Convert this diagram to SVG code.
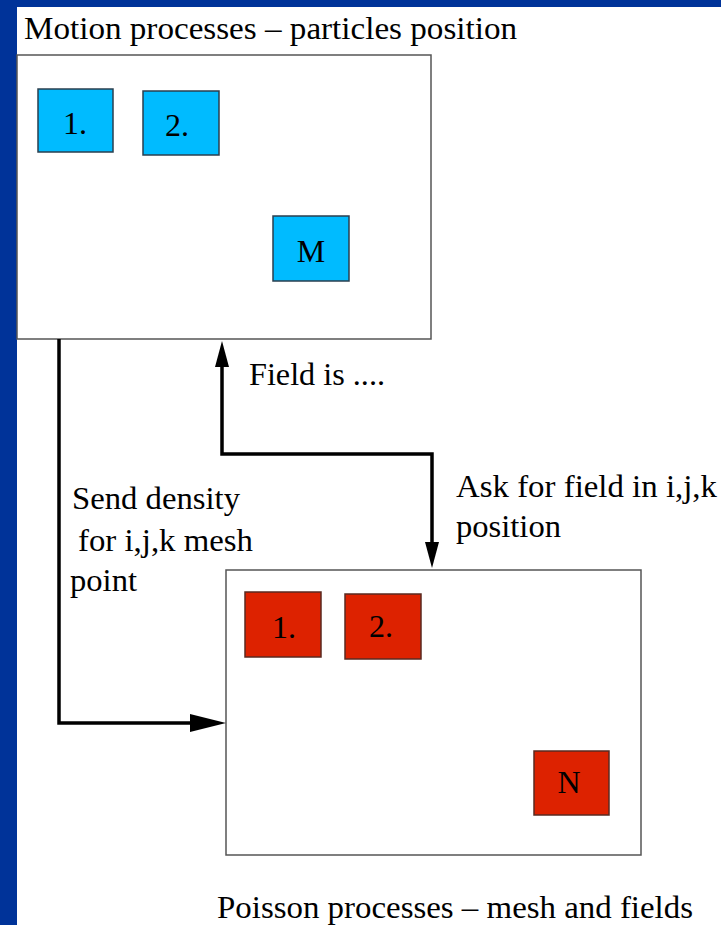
<svg xmlns="http://www.w3.org/2000/svg" width="721" height="925" viewBox="0 0 721 925" font-family="'Liberation Serif', 'Times New Roman', serif">
<style>
text{font-family:"Liberation Serif","Tinos","Times New Roman","Nimbus Roman","DejaVu Serif",serif;fill:#000}
.t{font-size:32px}
.lbl{font-size:32px;text-anchor:middle}
.frame{fill:#fff;stroke:#555;stroke-width:1.5}
.blue{fill:#00bbff;stroke:#2a3f4f;stroke-width:1.5}
.red{fill:#dd2200;stroke:#5a2a20;stroke-width:1.5}
.conn{fill:none;stroke:#000;stroke-width:3.5}
</style>
<defs>
<marker id="ahBig" viewBox="0 0 36 18" markerWidth="36" markerHeight="18" refX="1" refY="9" orient="auto" markerUnits="userSpaceOnUse"><path d="M0,0 L36,9 L0,18 z" fill="#000"/></marker>
<marker id="ahSmall" viewBox="0 0 26 14" markerWidth="26" markerHeight="14" refX="1" refY="7" orient="auto-start-reverse" markerUnits="userSpaceOnUse"><path d="M0,0 L26,7 L0,14 z" fill="#000"/></marker>
</defs>
<rect x="0" y="0" width="721" height="925" fill="#003399"/>
<rect x="17" y="7" width="704" height="918" fill="#fff"/>
<g id="motion">
<text class="t" x="24" y="39" textLength="493" lengthAdjust="spacingAndGlyphs">Motion processes – particles position</text>
<rect class="frame" x="17" y="55" width="414" height="284"/>
</g>
<g id="m1"><rect class="blue" x="38" y="89" width="75" height="63"/><text class="lbl" x="75" y="134">1.</text></g>
<g id="m2"><rect class="blue" x="143" y="91" width="76" height="64"/><text class="lbl" x="177" y="136">2.</text></g>
<g id="mM"><rect class="blue" x="273" y="216" width="76" height="65"/><text class="lbl" x="311" y="262">M</text></g>
<g id="poisson">
<rect class="frame" x="226" y="570" width="415" height="285"/>
<text class="t" x="217" y="918" textLength="476" lengthAdjust="spacingAndGlyphs">Poisson processes – mesh and fields</text>
</g>
<g id="p1"><rect class="red" x="245" y="592" width="76" height="65"/><text class="lbl" x="284" y="638">1.</text></g>
<g id="p2"><rect class="red" x="345" y="594" width="76" height="65"/><text class="lbl" x="381" y="637">2.</text></g>
<g id="pN"><rect class="red" x="534" y="751" width="75" height="64"/><text class="lbl" x="569" y="793">N</text></g>
<g id="connectors">
<path class="conn" d="M59,339 V723 H191" marker-end="url(#ahBig)"/>
<path class="conn" d="M222,366 V454 H432 V543" marker-start="url(#ahSmall)" marker-end="url(#ahSmall)"/>
<text class="t" x="72" y="509" textLength="168" lengthAdjust="spacingAndGlyphs">Send density</text>
<text class="t" x="78" y="551" textLength="175" lengthAdjust="spacingAndGlyphs">for i,j,k mesh</text>
<text class="t" x="70" y="591" textLength="67" lengthAdjust="spacingAndGlyphs">point</text>
<text class="t" x="249" y="385" textLength="136" lengthAdjust="spacingAndGlyphs">Field is ....</text>
<text class="t" x="456" y="497" textLength="261" lengthAdjust="spacingAndGlyphs">Ask for field in i,j,k</text>
<text class="t" x="456" y="537" textLength="105" lengthAdjust="spacingAndGlyphs">position</text>
</g>
</svg>
